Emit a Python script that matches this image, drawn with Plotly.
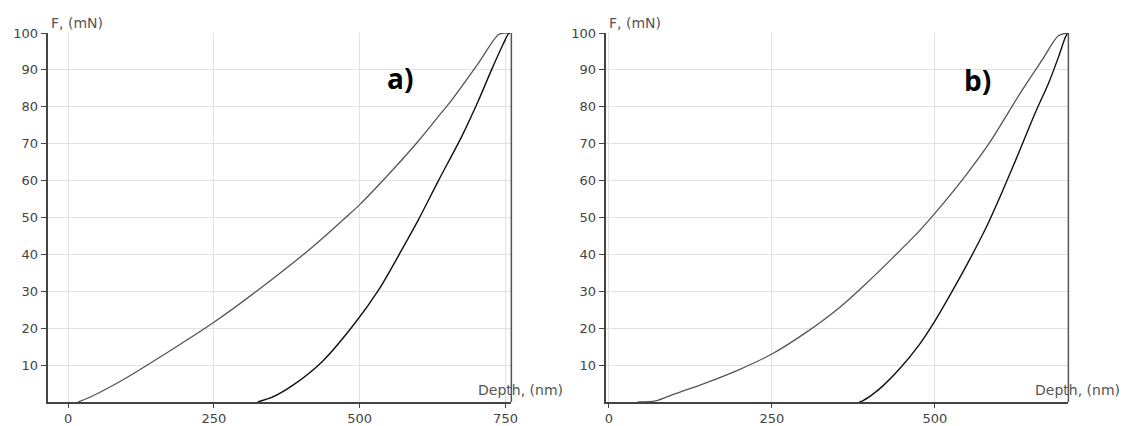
import plotly.graph_objects as go

# Panel a) data
load_a_depth = [17, 40, 95, 181, 250, 323, 419, 476, 500, 556, 601, 635, 658, 703, 738, 750, 758]
load_a_force = [0, 1.5, 6.1, 14.5, 21.6, 30, 42, 50, 53.5, 62.8, 70.8, 77.4, 81.9, 91.7, 99.6, 100, 100]
unload_a_depth = [758, 755, 746, 726, 703, 675, 635, 601, 573, 533, 493, 436, 385, 350, 325]
unload_a_force = [100, 99.8, 97, 90, 81.5, 72, 60, 49.5, 41.5, 30.5, 21.6, 11, 4.5, 1.3, 0]

# Panel b) data
load_b_depth = [44, 72, 98, 149, 200, 250, 302, 353, 394, 435, 476, 501, 547, 583, 613, 634, 664, 690, 704]
load_b_force = [0, 0.3, 2, 5.2, 8.8, 13, 18.8, 25.5, 32, 39, 46.3, 51.3, 61.3, 70, 78.5, 84.5, 92.5, 99.3, 100]
unload_b_depth = [704, 700, 690, 675, 654, 629, 603, 578, 552, 527, 501, 476, 445, 420, 404, 390, 384]
unload_b_force = [100, 98.7, 93.6, 86.6, 78.3, 67.6, 56.8, 47, 38.1, 30.1, 22.2, 15.5, 8.8, 4.3, 2, 0.4, 0]

y_ticks = [10, 20, 30, 40, 50, 60, 70, 80, 90, 100]
x_ticks_a = [0, 250, 500, 750]
x_ticks_b = [0, 250, 500]
range_a = [-35, 760]
range_b = [-5, 705]
panel_labels = ["a)", "b)"]

fig = go.Figure()
load_col = "#555555"
unload_col = "#111111"

fig.add_trace(go.Scatter(x=load_a_depth, y=load_a_force, mode="lines", line=dict(color=load_col, width=1.3, shape="spline", smoothing=0.8), xaxis="x", yaxis="y"))
fig.add_trace(go.Scatter(x=unload_a_depth, y=unload_a_force, mode="lines", line=dict(color=unload_col, width=1.4, shape="spline", smoothing=0.8), xaxis="x", yaxis="y"))
fig.add_trace(go.Scatter(x=load_b_depth, y=load_b_force, mode="lines", line=dict(color=load_col, width=1.3, shape="spline", smoothing=0.8), xaxis="x2", yaxis="y2"))
fig.add_trace(go.Scatter(x=unload_b_depth, y=unload_b_force, mode="lines", line=dict(color=unload_col, width=1.4, shape="spline", smoothing=0.8), xaxis="x2", yaxis="y2"))

tickfont = dict(family="DejaVu Sans", size=13, color="#444444")
common_x = dict(showgrid=True, gridcolor="#e2e2e2", gridwidth=1, zeroline=False,
                showline=True, linecolor="#444444", linewidth=1.5,
                ticks="outside", ticklen=4, tickcolor="#444444", tickfont=tickfont)
common_y = dict(showgrid=True, gridcolor="#e2e2e2", gridwidth=1, zeroline=False,
                showline=True, linecolor="#444444", linewidth=2,
                ticks="outside", ticklen=5, tickcolor="#444444", tickfont=tickfont,
                range=[0, 100], tickvals=y_ticks)

fig.update_layout(
    width=1130, height=426,
    margin=dict(l=0, r=0, t=33, b=17),
    paper_bgcolor="white", plot_bgcolor="white",
    showlegend=False,
    xaxis=dict(domain=[47/1130, 514/1130], range=range_a, tickvals=x_ticks_a, anchor="y", **common_x),
    yaxis=dict(domain=[0, 1], anchor="x", **common_y),
    xaxis2=dict(domain=[609/1130, 1075/1130], range=range_b, tickvals=x_ticks_b, anchor="y2", **common_x),
    yaxis2=dict(domain=[0, 1], anchor="x2", **common_y),
)

# right frame lines
for xr, yr in [("x domain", "y"), ("x2 domain", "y2")]:
    fig.add_shape(type="line", xref=xr, yref=yr, x0=1, x1=1, y0=0, y1=100,
                  line=dict(color="#555555", width=1.5))

lab_font = dict(family="DejaVu Sans", size=14, color="#555555")
for xr, yr in [("x domain", "y domain"), ("x2 domain", "y2 domain")]:
    fig.add_annotation(text="F, (mN)", xref=xr, yref=yr, x=0, y=1, xanchor="left", yanchor="bottom",
                       xshift=1, yshift=0, showarrow=False, font=lab_font)
    fig.add_annotation(text="Depth, (nm)", xref=xr, yref=yr, x=1, y=0, xanchor="right", yanchor="bottom",
                       xshift=54, yshift=2, showarrow=False, font=lab_font)

big_font = dict(family="Open Sans", size=28, color="#000000")
fig.add_annotation(text="<b>" + panel_labels[0] + "</b>", xref="paper", yref="paper",
                   x=402/1130, y=1-52/426, xanchor="center", yanchor="middle", showarrow=False, font=big_font)
fig.add_annotation(text="<b>" + panel_labels[1] + "</b>", xref="paper", yref="paper",
                   x=983/1130, y=1-54/426, xanchor="center", yanchor="middle", showarrow=False, font=big_font)

fig.write_html("out.html")
